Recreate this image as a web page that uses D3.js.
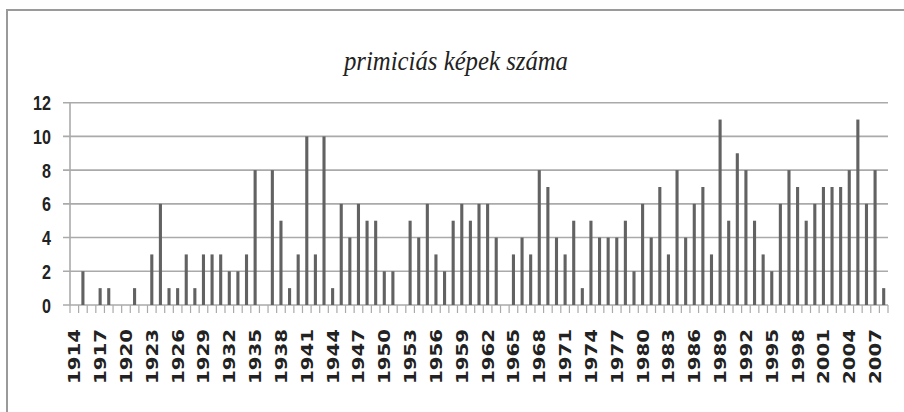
<!DOCTYPE html>
<html lang="hu">
<head>
<meta charset="UTF-8">
<title>primiciás képek száma</title>
<script src="https://d3js.org/d3.v7.min.js"></script>
<style>
  html, body { margin: 0; padding: 0; background: #fff; }
  svg { display: block; }
</style>
</head>
<body>
<svg width="904" height="412"></svg>
<script>
// évek 1914-2008
const years = d3.range(1914, 2009);
const counts = [
  0, 2, 0, 1, 1, 0, 0, 1, 0, 3,   // 1914-1923
  6, 1, 1, 3, 1, 3, 3, 3, 2, 2,   // 1924-1933
  3, 8, 0, 8, 5, 1, 3, 10, 3, 10, // 1934-1943
  1, 6, 4, 6, 5, 5, 2, 2, 0, 5,   // 1944-1953
  4, 6, 3, 2, 5, 6, 5, 6, 6, 4,   // 1954-1963
  0, 3, 4, 3, 8, 7, 4, 3, 5, 1,   // 1964-1973
  5, 4, 4, 4, 5, 2, 6, 4, 7, 3,   // 1974-1983
  8, 4, 6, 7, 3, 11, 5, 9, 8, 5,  // 1984-1993
  3, 2, 6, 8, 7, 5, 6, 7, 7, 7,   // 1994-2003
  8, 11, 6, 8, 1                  // 2004-2008
];
const yTicks = [0, 2, 4, 6, 8, 10, 12];
const title = "primiciás képek száma";

const svg = d3.select("svg");

// keret
svg.append("rect")
  .attr("x", 7).attr("y", 10)
  .attr("width", 920).attr("height", 420)
  .attr("fill", "none")
  .attr("stroke", "#9a9a9a")
  .attr("stroke-width", 2);

const x = d3.scaleBand().domain(years).range([70, 888]).paddingInner(0.64).paddingOuter(0.32);
const y = d3.scaleLinear().domain([0, 12]).range([305, 102.7]);

// rácsvonalak
svg.append("g")
  .selectAll("line")
  .data(yTicks)
  .join("line")
  .attr("x1", 63).attr("x2", 888)
  .attr("y1", d => y(d)).attr("y2", d => y(d))
  .attr("stroke", "#aaaaaa")
  .attr("stroke-width", 1.6);

// y tengely
svg.append("line")
  .attr("x1", 70).attr("x2", 70)
  .attr("y1", y(12)).attr("y2", y(0))
  .attr("stroke", "#aaaaaa").attr("stroke-width", 1.6);

// x tengely kategória-jelölők
svg.append("g")
  .selectAll("line")
  .data(d3.range(years.length + 1))
  .join("line")
  .attr("x1", i => 70 + i * (818 / years.length))
  .attr("x2", i => 70 + i * (818 / years.length))
  .attr("y1", y(0)).attr("y2", y(0) + 8)
  .attr("stroke", "#aaaaaa").attr("stroke-width", 1.2);

// oszlopok
svg.append("g")
  .selectAll("rect")
  .data(years.map((yr, i) => ({ yr, v: counts[i] })))
  .join("rect")
  .attr("x", d => x(d.yr))
  .attr("width", x.bandwidth())
  .attr("y", d => y(d.v))
  .attr("height", d => y(0) - y(d.v))
  .attr("fill", "#626262");

// y feliratok
svg.append("g")
  .selectAll("text")
  .data(yTicks)
  .join("text")
  .attr("transform", d => `translate(51,${y(d)}) scale(0.85,1.1)`)
  .attr("dy", "0.36em")
  .attr("text-anchor", "end")
  .attr("font-family", "Liberation Sans, Arial, sans-serif")
  .attr("font-weight", "bold")
  .attr("font-size", 19)
  .attr("fill", "#222")
  .text(d => d);

// x feliratok (minden harmadik év)
const center = d => x(d) + x.bandwidth() / 2;
svg.append("g")
  .selectAll("text")
  .data(years.filter((d, i) => i % 3 === 0))
  .join("text")
  .attr("transform", d => `translate(${center(d)},329) rotate(-90) scale(1.2,1)`)
  .attr("dy", "0.36em")
  .attr("text-anchor", "end")
  .attr("font-family", "DejaVu Sans, sans-serif")
  .attr("font-weight", "bold")
  .attr("font-size", 16.5)
  .attr("fill", "#222")
  .text(d => d);

// cím
svg.append("text")
  .attr("x", 456).attr("y", 70)
  .attr("text-anchor", "middle")
  .attr("font-family", "Liberation Serif, serif")
  .attr("font-style", "italic")
  .attr("font-size", 28)
  .attr("textLength", 224)
  .attr("lengthAdjust", "spacingAndGlyphs")
  .attr("fill", "#222")
  .text(title);
</script>
</body>
</html>
